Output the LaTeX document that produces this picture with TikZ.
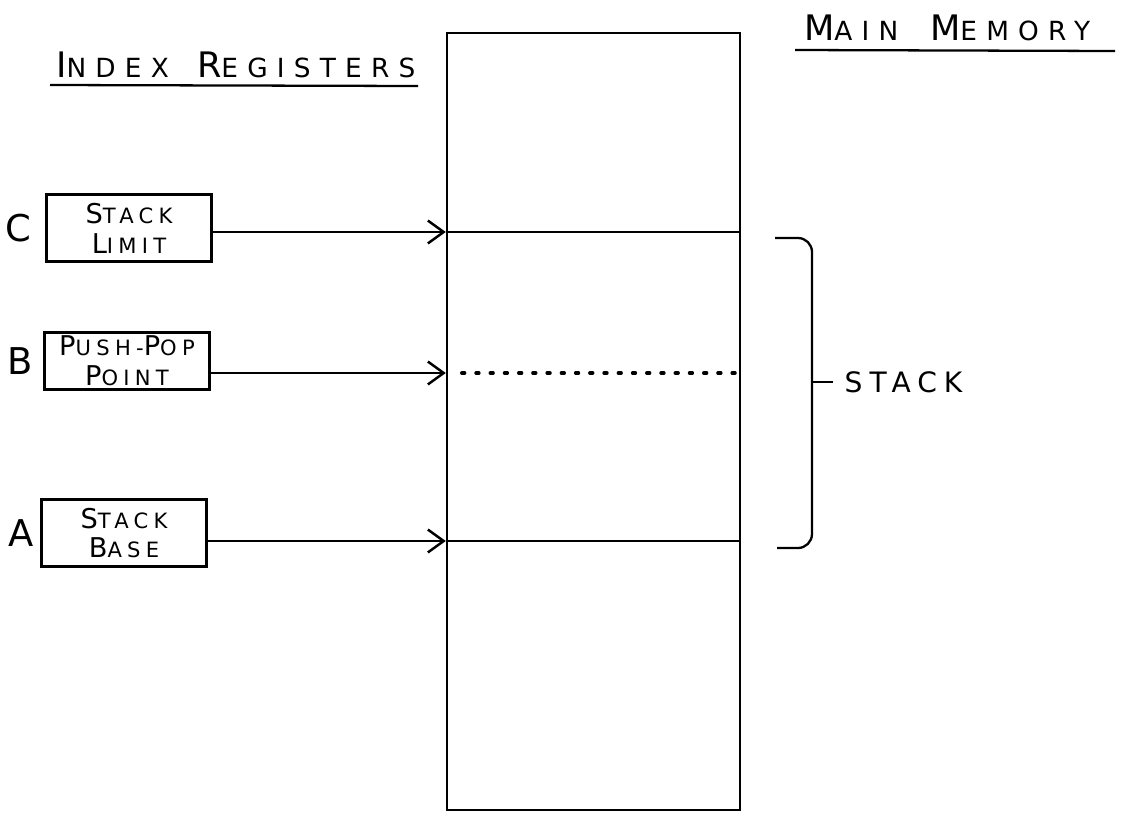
\documentclass[tikz,border=0pt]{standalone}
\usepackage{fontspec}
\usetikzlibrary{positioning, arrows.meta, calc}
\newfontfamily\hand[LetterSpace=25]{DejaVu Sans}
\newfontfamily\handwide[LetterSpace=35]{DejaVu Sans}
\newcommand{\titlesc}[2]{{\fontsize{20}{22}\selectfont #1}{\fontsize{15}{22}\selectfont #2}}
\newcommand{\boxsc}[2]{{\fontsize{15.5}{17}\selectfont #1}{\fontsize{12}{17}\selectfont #2}}

\begin{document}
\begin{tikzpicture}[
    x=0.02cm, y=-0.02cm,
    line width=1.3pt,
    reg/.style={
        rectangle, draw, line width=1.5pt, inner sep=2pt,
        minimum width=3.3cm, minimum height=#1,
        font=\hand\fontsize{12}{17}\selectfont, align=center
    },
    reg/.default=1.35cm,
    letter/.style={font=\hand\fontsize{21}{22}\selectfont, inner sep=0pt},
    title/.style={font=\handwide, inner sep=0pt, anchor=base west},
    ptr/.style={-{Straight Barb[length=9pt, width=13pt]}, line width=1.4pt},
    level/.style={line width=1.3pt},
    free/.style={dash pattern=on 1.6pt off 6.5pt, line cap=round, line width=2pt}
]
\useasboundingbox (0,0) rectangle (1132,812);

% Main memory
\node[draw, line width=1.4pt, minimum width=5.86cm, minimum height=15.54cm,
      inner sep=0pt] (mem) at (593.5,421.5) {};

% Index registers
\node[reg] (regC) at (129,228) {\boxsc{S}{TACK}\\\boxsc{L}{IMIT}};
\node[reg=1.12cm] (regB) at (127,361) {\boxsc{P}{USH}-\boxsc{P}{OP}\\\boxsc{P}{OINT}};
\node[reg] (regA) at (124,533) {\boxsc{S}{TACK}\\\boxsc{B}{ASE}};

\node[letter, left=7pt of regC] (lblC) {C};
\node[letter, left=5pt of regB] (lblB) {B};
\node[letter, left=3pt of regA] (lblA) {A};

% Stack levels in memory
\coordinate (limit) at (mem.west |- 0,232);
\coordinate (point) at (mem.west |- 0,373);
\coordinate (base) at (mem.west |- 0,541);

\draw[ptr] (regC.east |- limit) -- (limit);
\draw[ptr] (regB.east |- point) -- (point);
\draw[ptr] (regA.east |- base) -- (base);

\draw[level] (limit) -- (limit -| mem.east);
\draw[free] ($(point)+(16,0)$) -- (point -| mem.east);
\draw[level] (base) -- (base -| mem.east);

% Stack bracket
\coordinate (brtop) at (775,238);
\coordinate (brbot) at (777,548);
\coordinate (brmid) at (812,382);
\draw[rounded corners=8pt] (brtop) -- (brtop -| brmid) -- (brbot -| brmid) -- (brbot);
\draw (brmid) -- ++(21,0) node[font=\hand\fontsize{16}{17}\selectfont, anchor=west,
      inner sep=0pt, xshift=6pt] (stk) {STACK};

% Titles
\node[title] (idx) at (55,77) {\titlesc{I}{NDEX}\hspace{16pt}\titlesc{R}{EGISTERS}};
\draw (50,85) -- (418,86);
\node[title] (mm) at (803,40) {\titlesc{M}{AIN}\hspace{18pt}\titlesc{M}{EMORY}};
\draw (795,50) -- (1115,51);

\end{tikzpicture}
\end{document}
